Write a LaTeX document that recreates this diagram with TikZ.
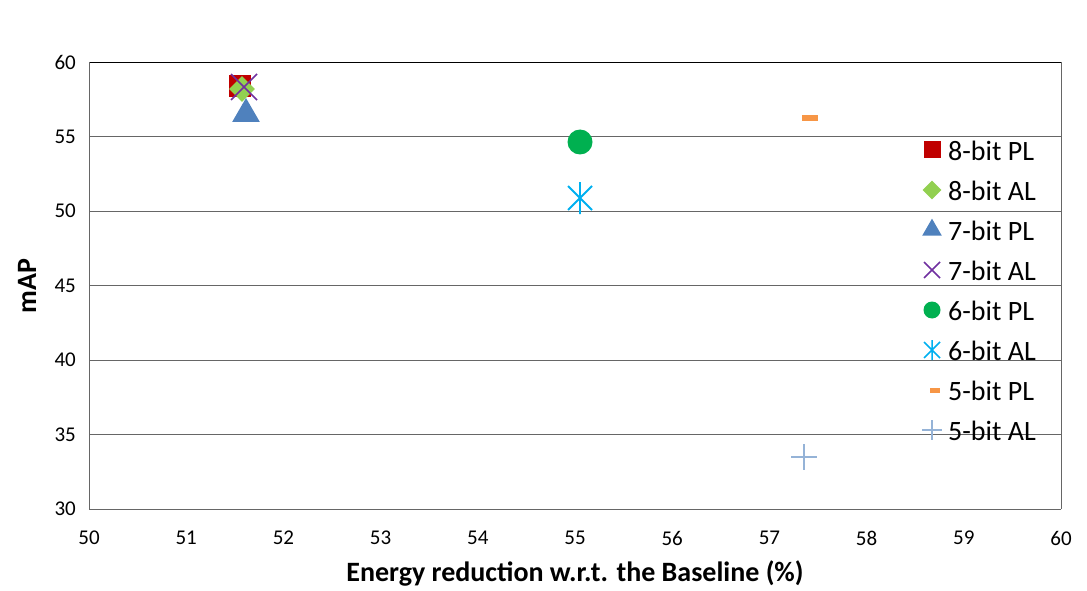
\documentclass[tikz,border=0pt]{standalone}
\usepackage{fontspec}
\setmainfont{Carlito}
\usetikzlibrary{shapes.geometric,calc}
\definecolor{cpl8}{HTML}{C00000}
\definecolor{cal8}{HTML}{92D050}
\definecolor{cpl7}{HTML}{4F81BD}
\definecolor{cal7}{HTML}{7030A0}
\definecolor{cpl6}{HTML}{00B050}
\definecolor{cal6}{HTML}{00B0F0}
\definecolor{cpl5}{HTML}{F79646}
\definecolor{cal5}{HTML}{95B3D7}
\tikzset{
 grid line/.style={draw=gray!80!black, line width=0.8pt},
 tick label/.style={font=\fontsize{21}{21}\selectfont, inner sep=0pt},
 leg label/.style={font=\fontsize{28}{28}\selectfont, anchor=west, inner sep=0pt},
 sq/.style={fill=cpl8, minimum size=22pt, inner sep=0pt},
 dia/.style={diamond, fill=cal8, minimum size=26pt, inner sep=0pt},
 tri/.style={isosceles triangle, isosceles triangle apex angle=60, shape border rotate=90, fill=cpl7, minimum size=24pt, inner sep=0pt},
 circ/.style={circle, fill=cpl6, minimum size=25pt, inner sep=0pt},
}
\newcommand{\xmark}[3]{\draw[#3, line width=1.6pt] ($(#1)+(-#2,-#2)$)--($(#1)+(#2,#2)$) ($(#1)+(-#2,#2)$)--($(#1)+(#2,-#2)$);}
\begin{document}
\begin{tikzpicture}[x=1pt,y=-1pt]
\useasboundingbox (0,0) rectangle (1087,591);
\foreach \v in {35,40,45,50,55} {\draw[grid line] (89,{62+(60-\v)*14.9}) -- (1061,{62+(60-\v)*14.9});}
\draw[black, line width=0.8pt] (89,62) -- (1061,62);
\draw[gray!80!black, line width=0.8pt] (1061,62) -- (1061,509);
\draw[gray!80!black, line width=1pt] (89,62) -- (89,509) -- (1061,509);
\foreach \v in {30,35,...,60} {\node[tick label, anchor=east] (yl\v) at (76,{62+(60-\v)*14.9}) {\v};}
\foreach \v in {50,...,60} {\node[tick label, anchor=north] (xl\v) at ({89+(\v-50)*97.2},531) {\v};}
\node[font=\bfseries\fontsize{28}{28}\selectfont] (xt) at (575,573) {Energy reduction w.r.t. the Baseline (\%)};
\node[font=\bfseries\fontsize{28}{28}\selectfont, rotate=90] (yt) at (27,286) {mAP};
\node[sq] (p8) at (240,86) {};
\node[dia] (a8) at (242,89) {};
\coordinate (a7) at (244,87);
\xmark{a7}{13}{cal7}
\node[tri] (p7) at (246,114) {};
\node[circ] (p6) at (580,142) {};
\coordinate (a6) at (580,198);
\draw[cal6, line width=1.8pt] ($(a6)+(-12,-12)$)--($(a6)+(12,12)$) ($(a6)+(-12,12)$)--($(a6)+(12,-12)$) ($(a6)+(0,-16)$)--($(a6)+(0,16)$);
\node[fill=cpl5, minimum width=16pt, minimum height=6pt, inner sep=0pt] (p5) at (810,118) {};
\coordinate (a5) at (804,457);
\draw[cal5, line width=1.6pt] ($(a5)+(-13,0)$)--($(a5)+(13,0)$) ($(a5)+(0,-13)$)--($(a5)+(0,13)$);
\node[sq, minimum size=17pt] (l1) at (932,150) {};
\node[leg label] at (948,151) {8-bit PL};
\node[dia, minimum size=19pt] (l2) at (932,190) {};
\node[leg label] at (948,191) {8-bit AL};
\node[tri, minimum size=17pt] (l3) at (932,230) {};
\node[leg label] at (948,231) {7-bit PL};
\coordinate (l4) at (932,270);
\xmark{l4}{8}{cal7}
\node[leg label] at (948,271) {7-bit AL};
\node[circ, minimum size=17pt] (l5) at (932,310) {};
\node[leg label] at (948,311) {6-bit PL};
\coordinate (l6) at (932,350);
\draw[cal6, line width=1.5pt] ($(l6)+(-8,-8)$)--($(l6)+(8,8)$) ($(l6)+(-8,8)$)--($(l6)+(8,-8)$) ($(l6)+(0,-10)$)--($(l6)+(0,10)$);
\node[leg label] at (948,351) {6-bit AL};
\node[fill=cpl5, minimum width=10pt, minimum height=5pt, inner sep=0pt] (l7) at (935,390) {};
\node[leg label] at (948,391) {5-bit PL};
\coordinate (l8) at (932,430);
\draw[cal5, line width=1.5pt] ($(l8)+(-10,0)$)--($(l8)+(10,0)$) ($(l8)+(0,-10)$)--($(l8)+(0,10)$);
\node[leg label] at (948,431) {5-bit AL};
\end{tikzpicture}
\end{document}
